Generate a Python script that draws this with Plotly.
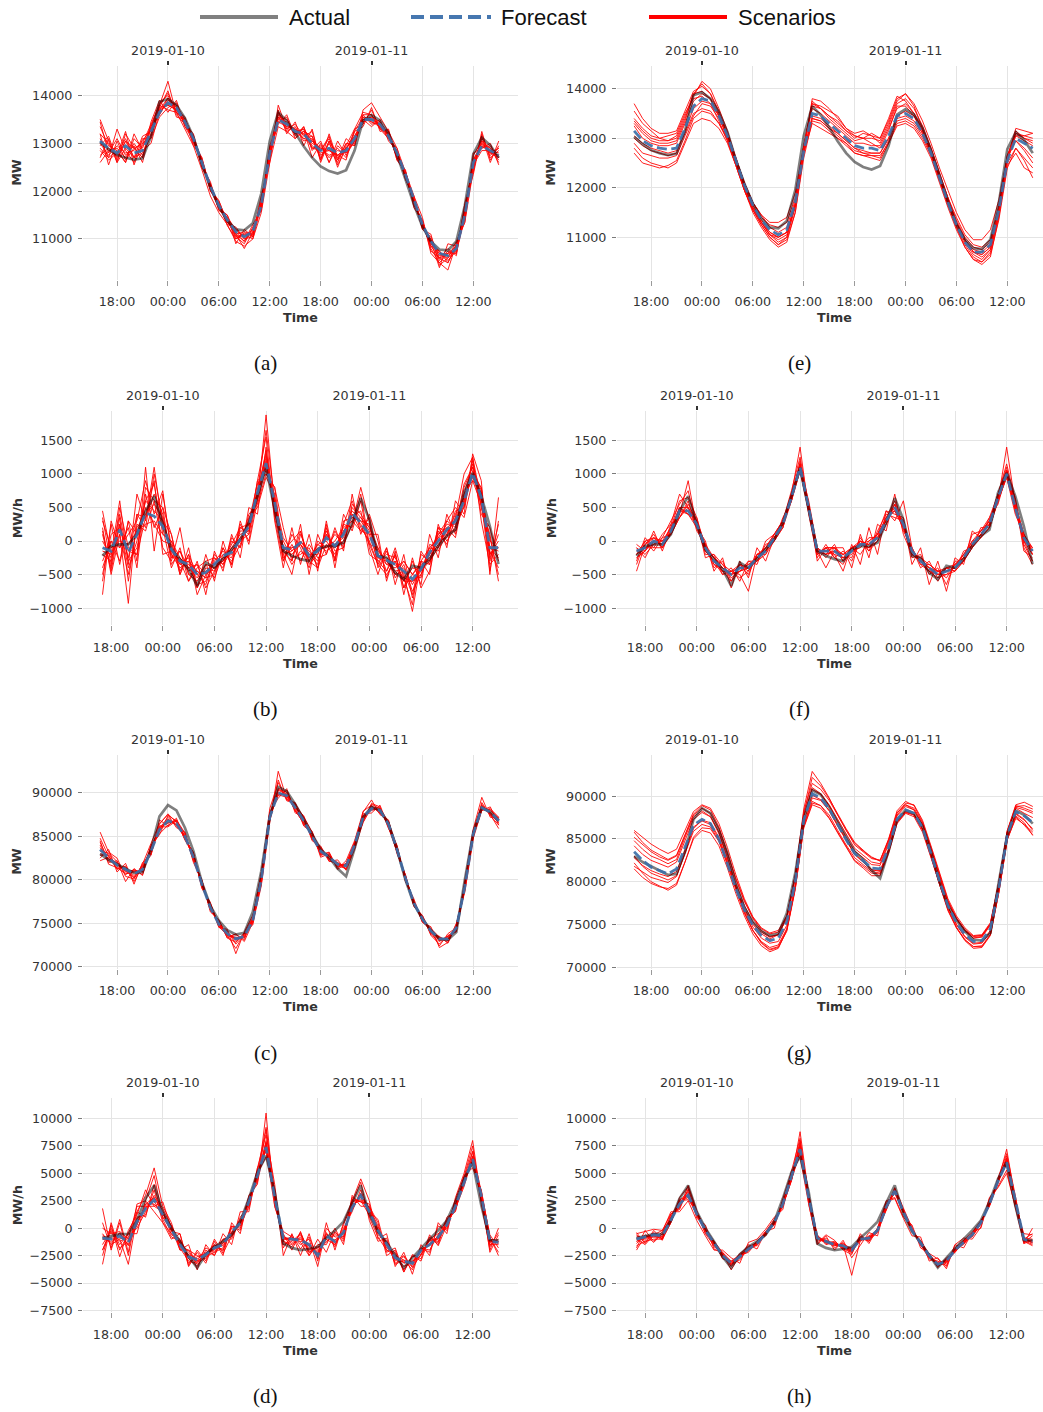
import pandas as pd
import plotly.graph_objects as go

W, H = 1043, 1412

# ---------------- time axes ----------------
T_LEVEL = pd.date_range("2019-01-09 16:00", periods=48, freq="h")
T_RAMP = pd.date_range("2019-01-09 17:00", periods=47, freq="h")

TICK_TIMES = ["2019-01-09 18:00", "2019-01-10 00:00", "2019-01-10 06:00", "2019-01-10 12:00",
              "2019-01-10 18:00", "2019-01-11 00:00", "2019-01-11 06:00", "2019-01-11 12:00"]
TICK_LABELS = ["18:00", "00:00", "06:00", "12:00", "18:00", "00:00", "06:00", "12:00"]
DATE_TICKS = ["2019-01-10 00:00", "2019-01-11 00:00"]
DATE_LABELS = ["2019-01-10", "2019-01-11"]

# ---------------- load (MW), panels a / e ----------------
ACT_LOAD_1 = [13030, 12880, 12760, 12700, 12660, 12690, 13150, 13870,
              13930, 13800, 13530, 13130, 12560, 12080, 11680, 11380,
              11200, 11180, 11330, 11950, 13050, 13650, 13470, 13220,
              12940, 12700, 12520, 12420, 12370, 12440, 12850, 13480,
              13590, 13480, 13210, 12760, 12250, 11720, 11260, 10950,
              10780, 10760, 10950, 11700, 12780, 13120, 12960, 12700]
FC_A = [13050, 12900, 12800, 12950, 12800, 12850, 13250, 13650,
        13850, 13750, 13450, 13100, 12600, 12100, 11700, 11400,
        11150, 11050, 11150, 11700, 12800, 13500, 13400, 13250,
        13200, 13000, 12850, 12900, 12800, 12850, 13100, 13500,
        13500, 13400, 13150, 12800, 12350, 11800, 11300, 10950,
        10700, 10650, 10800, 11500, 12600, 12950, 12850, 12750]
SCEN_A = [
    [13450, 12800, 13100, 12750, 12950, 12600, 13350, 13850, 14000, 13700, 13550, 13020, 12660, 12000, 11750, 11280,
     11000, 11130, 11050, 11850, 12600, 13800, 13300, 13400, 13150, 13250, 12650, 13050, 12500, 12950, 13300, 13650,
     13600, 13320, 13270, 12650, 12400, 11700, 11380, 10800, 10500, 10710, 10700, 11700, 12350, 13200, 12700, 12850],
    [12700, 13100, 12600, 13200, 12900, 13000, 13400, 13800, 14300, 13600, 13400, 13150, 12500, 12150, 11600, 11450,
     11050, 10900, 11250, 11600, 12900, 13400, 13600, 13150, 13350, 12900, 12950, 12700, 12900, 12700, 13300, 13400,
     13700, 13300, 13100, 12900, 12250, 11850, 11200, 11050, 10600, 10500, 10900, 11400, 12750, 13050, 12900, 12600],
    [12900, 12700, 13300, 12850, 12600, 13100, 13100, 13550, 13750, 13850, 13350, 13050, 12700, 12050, 11800, 11350,
     11200, 11000, 11050, 11800, 12700, 13650, 13250, 13350, 13050, 13100, 12700, 13000, 12650, 13000, 12950, 13600,
     13400, 13450, 13200, 12700, 12400, 11750, 11350, 10900, 10750, 10550, 10750, 11600, 12500, 13100, 12800, 12900],
    [13200, 13000, 12700, 13050, 12700, 12950, 13300, 13700, 13950, 13650, 13500, 13150, 12550, 12150, 11650, 11500,
     11100, 11150, 11100, 11750, 12850, 13550, 13500, 13200, 13250, 12950, 12800, 12850, 12750, 12900, 13150, 13450,
     13550, 13350, 13100, 12850, 12300, 11850, 11250, 10950, 10650, 10700, 10850, 11550, 12650, 12900, 12950, 12700],
    [12600, 12850, 12900, 12700, 13000, 12750, 13200, 13750, 13800, 13700, 13400, 13100, 12650, 12050, 11750, 11350,
     11150, 10950, 11200, 11650, 12750, 13450, 13350, 13300, 13100, 13050, 12900, 12750, 12850, 12800, 13050, 13550,
     13450, 13400, 13150, 12750, 12400, 11800, 11300, 10850, 10600, 10700, 10750, 11450, 12550, 12850, 12850, 12800],
    [13350, 12950, 12850, 12600, 13100, 12900, 13350, 13600, 13900, 13800, 13500, 13050, 12600, 12100, 11700, 11400,
     11050, 11100, 11100, 11700, 12800, 13600, 13400, 13250, 13300, 13050, 12850, 13100, 12700, 12850, 13250, 13550,
     13450, 13350, 13200, 12800, 12300, 11750, 11250, 10950, 10700, 10600, 10800, 11500, 12650, 13000, 12850, 12650],
    [12850, 12650, 12800, 13100, 12700, 12800, 13150, 13700, 13800, 13700, 13450, 13100, 12600, 12150, 11700, 11400,
     11100, 10800, 11150, 11750, 12750, 13500, 13450, 13200, 13300, 12700, 13000, 12600, 13050, 12750, 13050, 13450,
     13500, 13400, 13150, 12800, 12350, 11800, 11300, 10900, 10700, 10650, 10800, 11500, 12600, 12950, 12800, 12750],
    [13000, 12750, 12950, 12800, 12850, 13050, 13300, 13600, 13950, 13750, 13450, 13100, 12650, 12050, 11650, 11450,
     11200, 11050, 11200, 11650, 12850, 13550, 13350, 13300, 13200, 13000, 12900, 12850, 12750, 12900, 13100, 13500,
     13550, 13450, 13150, 12800, 12400, 11800, 11350, 10950, 10400, 10900, 10850, 11550, 12550, 12950, 12900, 12700],
    [12950, 13150, 12650, 13050, 12900, 12700, 13350, 13800, 13700, 13650, 13300, 12950, 12450, 11900, 11550, 11300,
     10950, 10850, 11000, 11550, 12600, 13350, 13250, 13100, 13250, 13150, 12650, 13200, 12650, 13100, 12950, 13700,
     13850, 13550, 13250, 12900, 12400, 11900, 11450, 10700, 10500, 10350, 10900, 11350, 12450, 13150, 12600, 13050],
    [13200, 12550, 13050, 12650, 12900, 12700, 13450, 13900, 13650, 13900, 13350, 13150, 12500, 12200, 11600, 11500,
     10900, 11200, 11050, 11900, 12650, 13700, 13200, 13450, 12950, 13300, 12600, 13050, 12750, 12650, 13250, 13350,
     13750, 13250, 13300, 12650, 12450, 11650, 11400, 10750, 10600, 10800, 10650, 11750, 12400, 13250, 12650, 12950],
    [12750, 12900, 12750, 13250, 12550, 13000, 13150, 13750, 14100, 13550, 13500, 12950, 12700, 12000, 11800, 11350,
     11100, 10950, 11300, 11600, 12950, 13450, 13550, 13100, 13350, 12850, 13050, 12600, 12950, 12800, 13050, 13500,
     13350, 13500, 13050, 12850, 12250, 11900, 11200, 11100, 10450, 10600, 10950, 11350, 12800, 12900, 13000, 12550],
    [13100, 12700, 12850, 12600, 13200, 12850, 13000, 13650, 13850, 13800, 13400, 13200, 12550, 12100, 11700, 11300,
     11250, 11000, 11150, 11800, 12700, 13550, 13300, 13300, 13100, 13150, 12750, 12900, 12600, 13000, 13000, 13600,
     13600, 13300, 13250, 12700, 12350, 11750, 11350, 10850, 10750, 10500, 10850, 11550, 12500, 13050, 12750, 12900],
    [13500, 13050, 12600, 12900, 12700, 13150, 13250, 13800, 14050, 13650, 13450, 13000, 12650, 12050, 11650, 11450,
     11000, 11100, 11000, 11700, 12850, 13650, 13400, 13200, 13200, 12900, 12850, 13150, 12550, 12900, 13150, 13500,
     13500, 13400, 13150, 12800, 12400, 11800, 11250, 11000, 10550, 10750, 10700, 11500, 12650, 13000, 12800, 12700],
]
FC_E = [13150, 12950, 12850, 12800, 12780, 12800, 13200, 13650,
        13800, 13750, 13450, 13050, 12550, 12050, 11650, 11350,
        11150, 11050, 11150, 11700, 12750, 13500, 13450, 13300,
        13150, 13000, 12850, 12800, 12800, 12750, 13050, 13450,
        13500, 13400, 13100, 12700, 12200, 11700, 11250, 10900,
        10700, 10700, 10850, 11550, 12550, 13000, 12900, 12800]
SCEN_E = [
    [13550, 13300, 13150, 13000, 12950, 13000, 13400, 13850, 14150, 14000, 13600, 13150, 12600, 12100, 11700, 11450,
     11300, 11300, 11400, 11900, 12850, 13700, 13650, 13550, 13450, 13200, 13050, 13000, 13000, 12950, 13300, 13750,
     13900, 13700, 13350, 12900, 12400, 11950, 11500, 11150, 10950, 10950, 11150, 11750, 12650, 13050, 13050, 13100],
    [12800, 12600, 12500, 12450, 12400, 12500, 12900, 13300, 13400, 13350, 13200, 12900, 12450, 11950, 11550, 11250,
     11000, 10850, 10950, 11500, 12600, 13350, 13300, 13150, 13000, 12850, 12700, 12650, 12600, 12550, 12900, 13250,
     13300, 13200, 12950, 12600, 12100, 11600, 11150, 10800, 10550, 10500, 10650, 11350, 12400, 12800, 12550, 12200],
    [13300, 13100, 12950, 12900, 12900, 12950, 13350, 13900, 14100, 13900, 13500, 13050, 12500, 12000, 11600, 11300,
     11050, 10900, 11000, 11600, 12800, 13750, 13600, 13450, 13300, 13150, 13050, 13000, 13100, 13000, 13350, 13800,
     13900, 13650, 13200, 12750, 12250, 11750, 11300, 10950, 10750, 10700, 10850, 11500, 12600, 13150, 13000, 12900],
    [13050, 12900, 12800, 12750, 12700, 12750, 13100, 13500, 13600, 13550, 13300, 12950, 12450, 11950, 11550, 11300,
     11050, 11000, 11100, 11650, 12700, 13300, 13200, 13100, 13000, 12900, 12700, 12650, 12650, 12650, 12900, 13300,
     13350, 13250, 13000, 12650, 12150, 11650, 11250, 10900, 10650, 10550, 10750, 11500, 12500, 12800, 12600, 12400],
    [13250, 13000, 12900, 12850, 12850, 12900, 13300, 13750, 13900, 13800, 13450, 13000, 12500, 11950, 11550, 11250,
     11000, 10850, 11000, 11650, 12850, 13600, 13500, 13350, 13200, 13050, 12900, 12900, 12850, 12850, 13200, 13600,
     13700, 13500, 13150, 12700, 12200, 11700, 11200, 10800, 10550, 10450, 10600, 11400, 12550, 13050, 12950, 12850],
    [12900, 12700, 12650, 12600, 12600, 12650, 13050, 13450, 13700, 13650, 13400, 13050, 12600, 12100, 11700, 11400,
     11250, 11200, 11300, 11800, 12750, 13450, 13400, 13250, 13100, 12950, 12800, 12700, 12700, 12700, 13000, 13400,
     13450, 13350, 13100, 12750, 12250, 11800, 11400, 11050, 10850, 10800, 10950, 11650, 12650, 12950, 12800, 12600],
    [13400, 13200, 13050, 13000, 13050, 13100, 13500, 13800, 13850, 13700, 13350, 12950, 12450, 11950, 11500, 11200,
     10950, 10800, 10900, 11500, 12700, 13800, 13750, 13600, 13400, 13200, 13100, 13150, 13050, 13000, 13400, 13850,
     13750, 13500, 13200, 12800, 12300, 11800, 11300, 10950, 10700, 10650, 10800, 11500, 12600, 13200, 13150, 13100],
    [13000, 12850, 12750, 12700, 12650, 12700, 13150, 13600, 13750, 13700, 13450, 13100, 12600, 12100, 11700, 11450,
     11200, 11100, 11200, 11750, 12750, 13400, 13350, 13200, 13100, 12950, 12800, 12750, 12700, 12700, 13000, 13450,
     13550, 13450, 13150, 12750, 12250, 11750, 11300, 10950, 10700, 10650, 10800, 11550, 12600, 12950, 12750, 12500],
    [13700, 13400, 13200, 13100, 13100, 13150, 13550, 13950, 14050, 13900, 13550, 13100, 12550, 12050, 11650, 11350,
     11100, 11000, 11100, 11700, 12800, 13650, 13600, 13450, 13350, 13150, 13000, 13100, 13050, 12900, 13250, 13700,
     13800, 13600, 13250, 12800, 12300, 11800, 11350, 11000, 10800, 10750, 10900, 11600, 12650, 13100, 13000, 12950],
    [12700, 12500, 12450, 12400, 12450, 12550, 12950, 13400, 13550, 13500, 13300, 13000, 12500, 12000, 11600, 11300,
     11100, 11000, 11100, 11650, 12700, 13400, 13350, 13200, 13050, 12900, 12750, 12700, 12650, 12600, 12950, 13350,
     13400, 13300, 13050, 12700, 12200, 11700, 11300, 10950, 10700, 10600, 10750, 11450, 12450, 12700, 12400, 12300],
    [13350, 13150, 13000, 12950, 12950, 13050, 13450, 13900, 13950, 13800, 13450, 13000, 12500, 12000, 11600, 11300,
     11050, 10950, 11050, 11650, 12850, 13700, 13600, 13400, 13250, 13100, 12950, 13000, 12900, 12800, 13150, 13650,
     13650, 13450, 13100, 12650, 12150, 11650, 11200, 10850, 10600, 10500, 10700, 11450, 12600, 13100, 13050, 13000],
]

# ---------------- load ramp (MW/h), panels b / f ----------------
ACT_RAMP_1 = [-220, -75, -50, -50, 100, 445, 670, 250,
              -125, -270, -420, -670, -320, -400, -270, -125,
              25, 270, 670, 1090, 470, -150, -220, -270,
              -300, -125, -75, -75, -25, 270, 640, 320,
              -220, -250, -470, -570, -370, -400, -270, -75,
              75, 170, 720, 1015, 670, 220, -345]
FC_B = [-100, -150, 170, -170, 100, 420, 370, 220,
        -125, -300, -350, -500, -470, -350, -220, -170,
        25, 220, 720, 1160, 570, -100, -130, -25,
        -220, -150, 50, -75, 100, 420, 270, 100,
        -220, -280, -350, -450, -570, -420, -170, 0,
        170, 300, 600, 1015, 650, -100, -100]
SCEN_B = [
    [450, -200, 600, -350, 700, 300, 1100, 200, -400, -100, -600, -300, -800, -150, -450, 100,
     -250, 500, 400, 1400, 300, -400, 200, -350, 100, -450, 300, -300, 400, 150, 600, -100,
     -500, -100, -650, -200, -850, -300, -500, 250, -100, 600, 400, 1300, 900, -500, 650],
    [-800, 300, -100, 200, -400, 700, 200, 500, 100, -500, -100, -700, -200, -600, 0, -400,
     200, 100, 900, 1000, 800, 200, -300, 250, -500, 100, -200, 200, -150, 700, 100, 400,
     0, -550, -200, -700, -300, -650, 100, -250, 400, 100, 800, 1100, 400, 200, -300],
    [100, -400, 350, -600, 250, 150, 600, -100, -300, 200, -500, -450, -550, -500, -100, -350,
     300, -50, 600, 1880, 500, -200, -500, 100, -200, -350, 250, -400, 300, 350, 450, -200,
     -300, -450, -100, -550, -950, -150, -350, 150, -50, 350, 1000, 1250, 300, -350, -200],
    [-300, 0, -100, 100, 300, 900, 400, 750, -200, -300, -600, -400, -300, -250, -400, 50,
     -100, 350, 500, 950, 700, -300, 100, -100, -400, 0, -100, 100, -50, 250, 800, 300,
     -400, -150, -500, -300, -500, -550, -50, -100, 300, 500, 350, 900, 800, -250, 100],
    [200, -500, 100, -930, 400, 200, 1000, 300, 100, -450, -200, -800, -500, -400, -300, -100,
     100, 150, 650, 1200, 400, 0, -250, -200, -100, -400, -50, -250, 250, 600, 200, 0,
     -350, -500, -300, -600, -400, -450, -300, 200, 0, 200, 700, 1150, 500, 100, -600],
    [0, -250, 400, -300, -100, 500, 250, 0, -50, -350, -250, -650, -600, -300, -150, -300,
     -50, 300, 850, 1050, 650, -150, 0, 150, -350, -200, 150, -150, -100, 500, 350, 200,
     -150, -300, -450, -400, -650, -400, -200, 50, 250, 250, 500, 1050, 700, 0, -100],
    [-500, 100, 200, -150, -200, 350, 700, 400, -250, -150, -400, -350, -700, -450, -250, -200,
     0, 100, 750, 1300, 450, -250, -100, -50, -250, -100, -100, 0, 200, 300, 150, 100,
     -300, -200, -250, -500, -1050, -300, -100, -150, 100, 400, 650, 950, 600, -450, 300],
    [300, -100, 0, -50, 150, 250, 300, 100, 0, -250, -400, -550, -350, -400, -300, -50,
     200, 250, 600, 1100, 600, 50, -150, 0, -150, -300, 100, -100, 0, 400, 250, -50,
     -100, -350, -400, -300, -500, -350, -250, -50, 150, 150, 550, 1200, 550, -150, -400],
    [-200, -300, 250, -400, 0, 600, 450, 300, -200, -400, -300, -450, -550, -200, -350, -150,
     50, 200, 700, 1250, 550, -100, -200, -50, -300, -50, 0, -200, 150, 350, 300, 250,
     -250, -250, -350, -550, -600, -500, -150, 100, 200, 300, 600, 1000, 800, -200, 0],
    [-600, 250, -350, 300, -300, 1100, -150, 700, -100, -300, -350, -500, -450, -350, -200, -150,
     0, 250, 700, 1150, 600, -100, -100, -50, -200, -150, 50, -50, 100, 450, 300, 100,
     100, -600, -150, -800, -250, -700, -450, 200, 150, 300, 600, 1000, 650, -100, -150],
    [350, -350, 500, -100, -200, 800, 600, 500, -350, -150, -500, -600, -350, -550, -200, -250,
     150, 150, 900, 1550, 350, -300, -50, -300, -50, -250, -200, 150, -100, 550, 400, 200,
     -100, -450, -200, -700, -500, -300, -350, 100, 300, 200, 850, 1100, 750, -300, 250],
    [-400, 0, -300, 300, 100, 600, 850, 100, 0, -500, -200, -500, -650, -250, -350, 0,
     -100, 400, 550, 1000, 800, -150, -300, 150, -300, -400, 200, -300, 250, 200, 700, -50,
     -350, -100, -550, -350, -750, -500, -200, 0, 50, 450, 500, 1250, 600, 50, -500],
    [150, -450, 250, -250, 400, 350, 900, -200, -150, -350, -300, -700, -400, -450, -100, -350,
     250, 0, 700, 1350, 500, -100, -350, -150, -250, -50, -150, -50, 50, 400, 150, 350,
     -250, -300, -500, -450, -800, -200, -300, -100, 200, 50, 700, 900, 550, -200, -100],
    [-150, -200, 100, -500, 200, 400, 550, 350, -250, -250, -450, -350, -500, -350, -300, -100,
     0, 300, 750, 1650, 600, -200, -150, 0, -200, -200, 100, -100, 150, 300, 350, 150,
     -200, -350, -300, -600, -600, -450, -100, 50, 100, 350, 650, 1000, 700, -100, -250],
]
FC_F = [-150, -100, 0, -50, 150, 450, 450, 250,
        -100, -300, -400, -500, -400, -400, -250, -150,
        50, 250, 650, 1100, 500, -150, -150, -150,
        -250, -150, -50, -50, 50, 300, 500, 250,
        -150, -300, -400, -500, -450, -400, -250, -50,
        100, 250, 650, 1000, 500, 50, -150]
SCEN_F = [
    [-450, -50, 100, -100, 250, 700, 500, 300, -250, -200, -500, -400, -600, -300, -350, 0,
     100, 300, 700, 1400, 450, -100, -200, -50, -300, -100, 0, -100, 100, 350, 600, 200,
     -200, -250, -350, -450, -400, -350, -200, 0, 150, 300, 700, 1050, 600, -50, -300],
    [-100, -200, -50, 50, 100, 400, 900, 200, -50, -250, -450, -600, -450, -350, -300, -200,
     0, 200, 600, 1050, 550, -200, -100, -200, -450, -50, -350, 200, -200, 450, 300, 600,
     -100, -350, -450, -550, -500, -450, -300, -100, 50, 200, 600, 950, 400, 100, -100],
    [-250, -150, 50, 0, 200, 500, 400, 350, -100, -250, -350, -450, -500, -750, -200, -150,
     50, 250, 700, 1150, 500, -150, -400, -150, -200, -100, -50, -100, 50, 350, 450, 200,
     -150, -300, -450, -500, -400, -450, -300, -50, 100, 250, 650, 1050, 550, 0, -200],
    [-200, -100, -100, -100, 100, 350, 550, 300, -50, -350, -400, -500, -350, -400, -300, -150,
     0, 300, 650, 1050, 450, -200, -100, -100, -100, -400, 100, -250, 250, 150, 700, 100,
     -200, -250, -400, -600, -400, -400, -200, -50, 100, 300, 700, 1100, 450, 100, -200],
    [-50, -150, 0, -50, 150, 500, 500, 250, -150, -300, -450, -450, -400, -350, -250, -100,
     100, 250, 600, 1150, 550, -100, -200, -150, -250, -200, 0, -50, 50, 250, 550, 250,
     -100, -350, -350, -450, -550, -350, -250, 0, 50, 200, 600, 1050, 500, 50, -150],
    [-200, 0, 50, -50, 200, 450, 400, 200, 0, -450, -250, -700, -300, -550, -100, -300,
     50, 200, 700, 1100, 550, -150, -150, -200, -250, -100, -50, -100, 0, 350, 450, 200,
     -150, -300, -400, -500, -450, -400, -300, -100, 100, 250, 600, 1400, 550, 100, -150],
    [-150, -100, -50, 0, 100, 450, 450, 300, -100, -250, -400, -500, -450, -400, -200, -150,
     50, 250, 650, 1100, 450, -150, -150, -100, -250, -150, -50, 0, 100, 300, 500, 250,
     -200, -300, -450, -450, -450, -400, -250, -50, 150, 250, 650, 950, 500, 0, -100],
    [-300, 50, -100, 100, 250, 350, 600, 150, -50, -400, -300, -600, -350, -500, -200, -100,
     0, 350, 600, 1200, 400, -250, -50, -250, -150, -300, 0, -150, 150, 400, 350, 300,
     -350, -100, -650, -300, -750, -250, -350, 150, 50, 350, 550, 1000, 650, -100, -350],
    [-350, 0, -150, 50, 300, 550, 750, 200, -150, -300, -500, -450, -550, -450, -250, -100,
     100, 300, 750, 1250, 550, -300, -100, -250, -350, -100, -200, 0, 100, 450, 400, 350,
     -250, -200, -500, -400, -650, -300, -300, 100, 150, 350, 700, 1150, 600, -150, -250],
    [-250, -150, 150, -150, 200, 600, 650, 350, -200, -200, -350, -550, -450, -300, -300, -50,
     0, 200, 700, 1100, 600, -100, -250, -100, -200, -250, 50, -150, 0, 250, 550, 150,
     -100, -400, -300, -550, -400, -450, -150, -100, 200, 200, 600, 1000, 450, 0, -300],
    [-100, -250, 0, 0, 100, 350, 500, 200, -50, -350, -450, -450, -350, -450, -200, -200,
     100, 300, 600, 1050, 450, -200, -100, -100, -300, -150, -100, 50, 50, 350, 450, 300,
     -200, -300, -400, -500, -500, -350, -250, -50, 100, 300, 650, 1050, 550, 100, -200],
    [-200, -50, 50, -100, 150, 500, 400, 250, -100, -250, -400, -500, -450, -400, -250, -150,
     50, 250, 650, 1150, 500, -150, -200, -150, -200, -100, -50, -50, 100, 300, 550, 200,
     -150, -300, -400, -450, -450, -400, -200, -50, 100, 250, 600, 950, 500, 50, -100],
]

# ---------------- load (MW), panels c / g ----------------
ACT_LOAD_2 = [83000, 82300, 81800, 81300, 80800, 80900, 83500, 87300,
              88600, 88000, 86000, 83300, 79700, 77000, 75300, 74200,
              73700, 73900, 76300, 81000, 87300, 90700, 90200, 88700,
              87000, 85200, 83500, 82600, 81300, 80400, 83600, 87200,
              88400, 88000, 86500, 83500, 80000, 77200, 75500, 74200,
              73200, 73100, 74000, 80000, 85500, 88300, 87800, 86800]
FC_C = [83500, 82500, 81700, 81200, 80700, 81200, 83300, 85800,
        86800, 86500, 85000, 82600, 79500, 76800, 74900, 73800,
        73200, 73500, 75300, 80000, 87200, 90000, 89700, 88300,
        86800, 85000, 83300, 82600, 81800, 81600, 84000, 87200,
        88200, 88000, 86400, 83500, 80200, 77300, 75500, 74100,
        73200, 73200, 74500, 79200, 85300, 88300, 87800, 86800]
SCEN_C = [
    [85500, 83200, 82500, 80400, 80100, 81800, 84200, 86500, 87500, 86000, 85500, 82000, 79900, 76300, 75400, 73300,
     72800, 73900, 74800, 80500, 88200, 91200, 89200, 88900, 86300, 85600, 82800, 83200, 81300, 82200, 84500, 87800,
     89200, 87500, 86900, 83000, 80600, 76900, 75900, 73600, 72600, 73600, 74000, 79700, 85900, 89500, 87200, 87200],
    [82500, 83500, 80900, 81900, 79500, 82000, 82800, 86900, 86200, 87100, 84600, 83200, 79100, 77300, 74500, 74300,
     71500, 74000, 75900, 79500, 86600, 92500, 89300, 88800, 87200, 84500, 83800, 82100, 82300, 81100, 83500, 86600,
     88800, 88400, 85900, 84000, 79800, 77800, 75100, 74600, 72200, 72800, 75000, 78600, 84800, 88000, 88400, 86300],
    [84000, 82000, 82200, 79800, 81300, 80500, 83900, 85200, 87400, 86800, 85300, 82300, 80000, 76500, 75300, 73500,
     73700, 73100, 75800, 80700, 87800, 89400, 90500, 87700, 87300, 85500, 82600, 83000, 81500, 81900, 84300, 87600,
     87700, 88600, 86000, 83300, 80500, 77000, 75900, 73800, 73500, 72700, 74800, 79500, 85700, 88700, 87500, 85900],
    [83000, 82800, 81300, 81500, 80200, 81500, 83000, 86200, 86500, 86900, 84800, 82900, 79300, 77100, 74700, 74000,
     72900, 73800, 75000, 79300, 86800, 90300, 89900, 88000, 86500, 85300, 83600, 82300, 82000, 81300, 83800, 86900,
     88500, 87700, 86700, 83800, 79900, 77500, 75300, 74300, 73000, 73400, 74200, 78900, 85000, 88100, 88100, 87100],
    [84300, 82200, 82000, 81000, 81100, 80900, 84000, 85600, 87000, 86300, 85200, 82400, 79700, 76600, 75100, 73600,
     73400, 73300, 75500, 80300, 87500, 89800, 89500, 88600, 87000, 84800, 83100, 82800, 81600, 81800, 84200, 87400,
     88000, 88200, 86200, 83300, 80400, 77100, 75700, 73900, 73400, 73000, 74700, 79400, 85500, 88500, 87600, 86600],
    [82800, 83000, 81500, 81300, 80500, 81400, 83100, 86000, 86600, 86700, 84900, 82800, 79400, 77000, 74800, 73900,
     73100, 73600, 75200, 79800, 87000, 90600, 89600, 88200, 86600, 85200, 83400, 82500, 81900, 81500, 83900, 87000,
     88400, 87900, 86500, 83600, 80100, 77400, 75400, 74200, 73100, 73300, 74400, 79100, 85200, 88400, 88000, 87000],
    [83700, 82400, 81800, 80900, 81000, 81000, 83500, 85700, 86900, 86400, 85100, 82500, 79600, 76700, 75000, 73700,
     73300, 73400, 75400, 80100, 87300, 89900, 89800, 88400, 86900, 84900, 83200, 82700, 81700, 81700, 84100, 87300,
     88100, 88100, 86300, 83400, 80300, 77200, 75600, 74000, 73300, 73100, 74600, 79300, 85400, 88200, 87700, 86700],
    [84500, 81800, 81400, 80700, 80900, 81100, 83600, 85900, 87200, 86200, 85000, 82700, 79500, 76900, 74900, 73800,
     73200, 73500, 75300, 80000, 87100, 90100, 89700, 88300, 87400, 84600, 83900, 82200, 81800, 81600, 84000, 87200,
     88200, 88000, 86400, 83500, 80200, 77300, 75500, 74100, 72400, 73800, 74500, 79200, 85300, 88300, 87800, 86500],
    [84800, 82700, 81200, 81600, 79800, 81600, 82900, 86400, 87600, 86600, 84700, 83100, 79000, 77400, 74600, 73600,
     72100, 73900, 75600, 80900, 86900, 91500, 89100, 88800, 86200, 85400, 83000, 83100, 81200, 81900, 83600, 87900,
     88600, 87600, 86800, 83200, 80500, 77000, 75800, 73700, 72900, 73500, 74100, 79700, 85100, 88900, 87400, 86300],
    [83300, 83100, 82100, 80600, 81200, 80600, 83800, 85300, 86300, 86900, 85400, 82200, 79900, 76500, 75200, 73300,
     73800, 72900, 75100, 79600, 87600, 90400, 90100, 87900, 87100, 84700, 83600, 82400, 82000, 81200, 84300, 86800,
     88700, 88200, 86100, 83900, 79900, 77600, 75200, 74400, 73400, 72800, 74900, 78800, 85600, 88000, 88200, 87200],
    [82200, 82600, 81900, 81000, 80300, 81700, 83400, 86100, 86100, 86800, 84600, 82800, 79300, 77200, 74600, 74100,
     72600, 73700, 75500, 79900, 87400, 89700, 90300, 88000, 86500, 85300, 82900, 82900, 81600, 81300, 84100, 86600,
     88300, 88300, 86600, 83200, 80300, 77500, 75100, 74300, 73000, 73500, 74300, 79000, 85000, 88600, 87500, 86900],
]
FC_G = [83500, 82500, 81700, 81300, 80900, 81500, 84000, 86600,
        87300, 86800, 85000, 82200, 79200, 76700, 74900, 73700,
        73100, 73400, 75300, 80000, 87200, 90300, 89800, 88500,
        86700, 84900, 83300, 82500, 81600, 81500, 84000, 87300,
        88400, 88000, 86300, 83300, 80100, 77200, 75200, 73800,
        73000, 73100, 74500, 79300, 85500, 88200, 87700, 86900]
SCEN_G = [
    [86000, 85200, 84400, 83800, 83300, 83800, 86000, 88200, 89000, 88600, 86800, 84000, 80800, 78000, 75900, 74600,
     74000, 74300, 76000, 80800, 88200, 91500, 90800, 89500, 87800, 86000, 84300, 83500, 82700, 82500, 84800, 88000,
     89200, 89000, 87200, 84200, 81000, 78000, 76000, 74600, 73700, 73800, 75200, 80000, 86000, 89000, 89300, 88800],
    [82200, 81000, 80000, 79500, 79000, 79600, 82200, 85000, 86000, 85700, 84200, 81600, 78600, 76000, 73900, 72500,
     71800, 72200, 74300, 79300, 86700, 89400, 88900, 87500, 85700, 84000, 82400, 81600, 80700, 80700, 83300, 86800,
     88000, 87600, 85800, 82800, 79600, 76600, 74600, 73200, 72400, 72500, 73800, 78700, 84900, 87600, 86600, 85500],
    [84800, 83800, 83000, 82600, 82100, 82600, 85200, 87600, 88300, 87600, 85600, 82700, 79500, 76900, 75000, 73900,
     73300, 73800, 75800, 80800, 88500, 92900, 91500, 89800, 87800, 86000, 84500, 83600, 82900, 82400, 84900, 88100,
     89000, 88400, 86700, 83700, 80500, 77600, 75700, 74300, 73600, 73700, 75000, 79900, 86000, 88700, 88400, 88000],
    [83000, 81800, 81000, 80600, 80200, 80700, 83200, 85900, 86700, 86400, 84800, 82000, 79000, 76300, 74300, 72900,
     72100, 72400, 74400, 79200, 86300, 89000, 88600, 87400, 85800, 84100, 82500, 81800, 81000, 80900, 83500, 86900,
     88100, 87900, 86100, 83200, 80000, 77000, 75000, 73500, 72700, 72800, 74100, 79000, 85100, 87900, 87200, 86200],
    [85200, 84300, 83500, 82900, 82500, 83000, 85400, 87800, 88600, 88000, 86200, 83300, 80300, 77700, 75800, 74500,
     73900, 74100, 76000, 80700, 87800, 91000, 90300, 89000, 87300, 85500, 83900, 83100, 82300, 82100, 84600, 87800,
     89000, 88600, 86900, 83900, 80700, 77700, 75700, 74300, 73400, 73600, 75000, 79700, 85800, 88900, 88600, 88200],
    [81500, 80500, 79800, 79400, 79200, 79800, 82300, 85200, 86300, 86200, 84700, 82100, 79100, 76400, 74300, 73000,
     72300, 72600, 74500, 79400, 86500, 89800, 89500, 88300, 86600, 84900, 83200, 82300, 81400, 81200, 83700, 87100,
     88200, 87800, 86100, 83000, 79700, 76800, 74700, 73200, 72400, 72400, 73800, 78800, 85000, 87700, 86900, 85400],
    [84200, 83200, 82500, 82100, 81700, 82300, 84800, 87300, 88100, 87600, 85800, 82900, 79800, 77200, 75300, 74100,
     73500, 73800, 75700, 80400, 87600, 90800, 90200, 88900, 87100, 85200, 83600, 82800, 82000, 81900, 84400, 87700,
     88800, 88400, 86700, 83700, 80500, 77500, 75600, 74200, 73400, 73500, 74900, 79600, 85800, 88600, 88000, 87500],
    [82800, 81900, 81300, 80900, 80600, 81200, 83700, 86400, 87100, 86700, 85000, 82300, 79300, 76700, 74700, 73400,
     72800, 73000, 74900, 79800, 87000, 90100, 89600, 88300, 86500, 84800, 83200, 82300, 81400, 81300, 83800, 87200,
     88300, 87900, 86200, 83200, 80000, 77100, 75000, 73600, 72800, 72900, 74300, 79100, 85300, 88000, 87300, 86000],
    [85800, 84600, 83700, 83100, 82600, 83100, 85600, 87900, 88900, 88400, 86400, 83500, 80400, 77800, 75700, 74300,
     73600, 73800, 75800, 80600, 87900, 92200, 91200, 89700, 87900, 86200, 84600, 83700, 82800, 82500, 85000, 88300,
     89400, 88900, 87000, 84000, 80800, 77800, 75800, 74400, 73600, 73700, 75100, 79900, 85900, 88800, 88900, 88500],
    [81800, 81100, 80500, 80200, 79900, 80600, 83300, 86200, 87200, 86900, 85200, 82400, 79300, 76500, 74300, 72800,
     72000, 72300, 74200, 79100, 86400, 89200, 88900, 87800, 86000, 84300, 82800, 82000, 81200, 81000, 83500, 87000,
     88100, 87800, 86000, 82900, 79700, 76700, 74600, 73100, 72200, 72300, 73700, 78800, 85000, 87400, 86700, 85800],
]

# ---------------- load ramp (MW/h), panels d / h ----------------
ACT_RAMP_2 = [-900, -700, -550, -550, 700, 2700, 3900, 1500,
              0, -1200, -2600, -3600, -2400, -1700, -1200, -600,
              600, 2700, 5100, 6600, 3300, -1400, -1800, -2000,
              -1900, -1700, -900, -200, 600, 2300, 3900, 1300,
              -300, -1300, -2400, -3600, -2700, -1800, -1000, -200,
              700, 2400, 4500, 6000, 2100, -1100, -1100]
FC_D = [-900, -1000, -700, -1300, 600, 1800, 2600, 1200,
        -150, -1500, -2600, -2900, -2400, -1800, -1500, -300,
        450, 2400, 4800, 7400, 2800, -900, -1000, -1100,
        -1500, -2500, -700, -1200, -400, 1900, 3000, 1500,
        -200, -1500, -2700, -3000, -3200, -2000, -1500, -800,
        300, 2000, 4200, 6300, 3000, -1200, -1300]
SCEN_D = [
    [1800, -2000, 500, -2500, 1500, 3000, 5500, 2000, 500, -2000, -1500, -3800, -1500, -2500, -500, -1500,
     1500, 1500, 5500, 8500, 4000, -2500, -500, -2500, -500, -3000, 500, -2000, 500, 2500, 4500, 2500,
     -1000, -500, -3500, -2200, -4200, -1500, -2500, 500, -500, 2800, 5000, 8000, 2500, -2000, 0],
    [-3300, 500, -2000, -500, -500, 2500, 1500, 500, -1000, -500, -3500, -2200, -3200, -1200, -2500, 500,
     -500, 3000, 4000, 10500, 2000, -500, -2000, -300, -2500, -1500, -1500, 0, -1500, 3000, 2000, 2000,
     500, -2500, -2000, -4000, -2500, -3000, -800, -1500, 1000, 1500, 4800, 5500, 3500, -800, -2500],
    [-500, -1500, -1000, -3300, 1000, 1200, 3500, 500, -500, -1000, -2800, -3500, -2000, -2500, -1000, -1000,
     1000, 2000, 5000, 6500, 3500, -1500, -1200, -500, -2000, -2000, -1000, -1500, 0, 1500, 3500, 1000,
     -800, -2000, -2500, -3500, -3000, -2500, -1000, -500, 0, 2500, 4000, 7000, 2500, -1500, -1000],
    [0, -500, -300, -1000, 2000, 2000, 2000, 1500, 0, -2000, -2000, -2500, -2800, -1500, -2000, 0,
     200, 2000, 5500, 7000, 2000, -300, -800, -1500, -1000, -3500, 0, -800, -800, 2200, 2500, 1200,
     -300, -1200, -3000, -2500, -3500, -1800, -2000, -600, 800, 1800, 3800, 6500, 3200, -600, -1800],
    [-1500, -200, -1200, -800, 0, 1500, 3000, 1800, 200, -1800, -3000, -3200, -2200, -2000, -1200, -600,
     500, 2800, 4500, 8000, 3000, -1200, -1500, -800, -1800, -2200, -500, -1500, -200, 1700, 3200, 1800,
     0, -1800, -2400, -3200, -3000, -2200, -1200, -1000, 500, 2200, 4500, 6000, 2800, -1500, -1500],
    [-1000, -1200, -500, -1500, 800, 1800, 2500, 1000, -200, -1400, -2500, -3000, -2500, -1600, -1600, -300,
     400, 2300, 4700, 7600, 2700, -800, -1000, -1200, -1400, -2600, -800, -1100, -500, 2000, 2800, 1400,
     -300, -1400, -2800, -3100, -3100, -2100, -1400, -900, 200, 2100, 4300, 6500, 3100, -1300, -1200],
    [-800, -900, -900, -1100, 500, 1900, 2800, 1300, -100, -1600, -2400, -2800, -2300, -1900, -1400, -400,
     500, 2500, 4900, 7200, 2900, -1000, -900, -1000, -1600, -2400, -600, -1300, -300, 1800, 3100, 1600,
     -100, -1600, -2600, -2900, -3300, -1900, -1600, -700, 400, 1900, 4100, 6200, 2900, -1100, -1400],
    [-2000, 0, -1500, -500, 1500, 1000, 4000, 800, -800, -1200, -2200, -3000, -1800, -2200, -1800, 200,
     0, 2600, 4400, 9000, 2500, -700, -1400, -600, -2200, -1800, -1200, -600, -800, 2600, 2400, 2200,
     -600, -1200, -3200, -2600, -3600, -2400, -1000, -1200, 600, 1600, 4600, 7000, 3300, -2200, -600],
    [-600, -1400, -400, -1600, 300, 2200, 2200, 1400, -300, -500, -3400, -2000, -3000, -1000, -2300, -700,
     600, 2300, 4600, 7800, 2600, -1100, -800, -1300, -2500, -1000, -2200, -300, -1200, 2800, 2400, 1900,
     -400, -1300, -2800, -3100, -3100, -2000, -1500, -700, 200, 2100, 4000, 6600, 3100, -1000, -1200],
    [-2500, 300, -2600, -200, 1200, 3500, 2000, 2400, 0, -1400, -2600, -3100, -2300, -1800, -1400, -400,
     400, 2400, 5000, 7300, 2900, -900, -1100, -1000, -1600, -2300, -800, -1100, -400, 1800, 3100, 1500,
     800, -2200, -1800, -4000, -2400, -2800, -600, -1600, 300, 2000, 4300, 6200, 3000, -1200, -1300],
    [500, -1800, 800, -2200, 2200, 2500, 4800, 1000, 300, -1700, -2000, -3300, -2600, -2200, -1000, -800,
     800, 1800, 5200, 9200, 3300, -1800, -600, -1900, -800, -2800, -400, -1700, 300, 2200, 4200, 700,
     -1200, -900, -3300, -2900, -3800, -1800, -2200, 200, -200, 2600, 4700, 7500, 2200, -1700, -400],
    [-2000, -300, -1800, -1200, 300, 2200, 2800, 1600, -600, -1100, -3200, -2600, -2300, -1500, -2100, 200,
     -200, 2700, 4200, 7800, 2400, -1200, -1700, -400, -2200, -1700, -1300, -400, -1000, 2400, 2600, 1900,
     200, -2000, -2200, -3800, -2600, -2400, -1100, -1300, 700, 1700, 4400, 5900, 3400, -900, -2200],
]
FC_H = [-1000, -800, -600, -700, 800, 2200, 3000, 1300,
        -200, -1400, -2500, -3200, -2600, -1900, -1400, -500,
        500, 2200, 4600, 7200, 2800, -900, -1200, -1500,
        -1600, -2000, -1000, -900, -200, 1900, 3400, 1500,
        -200, -1300, -2500, -3300, -3000, -2000, -1300, -600,
        500, 2200, 4300, 6000, 2600, -1000, -1200]
SCEN_H = [
    [-1600, -1200, -1000, -1000, 500, 2800, 3800, 1500, -500, -1200, -2200, -3000, -2400, -2000, -1200, -300,
     800, 2000, 4400, 8800, 3000, -600, -1500, -1300, -1900, -2200, -700, -1200, 0, 1600, 3700, 1800,
     0, -1600, -2300, -3600, -2700, -2200, -1100, -400, 700, 2000, 4600, 6800, 3000, -1200, -1600],
    [-500, -300, -100, -200, 1300, 1700, 3600, 900, 300, -1900, -2300, -3800, -2500, -1500, -1900, -300,
     0, 2700, 5100, 6500, 2200, -1500, -700, -2000, -1100, -2700, -1500, -400, -700, 2400, 2700, 900,
     -700, -800, -3000, -2700, -3700, -1500, -1800, -400, 0, 2700, 3700, 5000, 2000, -500, -600],
    [-1200, -900, -800, -900, 600, 2500, 2600, 1500, -100, -1300, -2400, -3100, -2500, -2200, -1300, -400,
     600, 2100, 4700, 7500, 3200, -1000, -1300, -1400, -1800, -1800, -900, -1000, -100, 1800, 3500, 1700,
     -100, -1400, -2600, -3200, -3100, -1900, -1200, -500, 600, 2100, 4200, 6400, 2800, -1400, -1100],
    [-400, -1400, -200, -1000, 1300, 1800, 3900, 1600, -300, -1500, -2600, -3300, -2300, -1800, -1500, -600,
     400, 2300, 4500, 7000, 2600, -800, -1100, -1600, -1500, -4300, -1100, -800, -300, 2000, 3200, 1400,
     -300, -1200, -2400, -3400, -2800, -2100, -1400, -700, 400, 2300, 4400, 5800, 2500, -900, -1300],
    [-2000, -700, -700, -800, 700, 2300, 3100, 1300, -200, -1400, -2500, -3200, -2700, -1900, -1400, -500,
     500, 2200, 4600, 7200, 2900, -900, -1200, -1500, -1600, -2000, -1000, -900, -200, 1900, 3400, 1500,
     -200, -1300, -2500, -3300, -3000, -2000, -1300, -600, 500, 2200, 4300, 7200, 2600, -1000, -1200],
    [-1800, -200, -1200, -300, 1500, 1500, 2500, 700, -700, -2000, -2000, -2700, -3200, -1300, -1000, -100,
     1000, 1700, 5200, 8200, 2200, -1400, -600, -1100, -2000, -2400, -500, -1400, 0, 2500, 2800, 1000,
     300, -1800, -2300, -2800, -3500, -1500, -900, -1000, 100, 2800, 3800, 5300, 1900, -1400, 0],
    [-700, -1100, -400, -1000, 500, 2600, 2900, 1400, 0, -1200, -2600, -3400, -2500, -2000, -1500, -500,
     300, 2300, 4400, 6900, 2700, -700, -1300, -1600, -1400, -1900, -1100, -900, -100, 1800, 3600, 1600,
     -300, -1200, -2300, -3500, -2900, -2100, -1400, -500, 600, 2100, 4500, 6300, 2400, -900, -1400],
    [-1000, -1500, -600, -200, 800, 2200, 3200, 1100, -200, -1200, -2800, -3000, -2600, -2100, -1200, -500,
     500, 2000, 4600, 7400, 2900, -900, -1200, -1300, -1800, -2000, -1200, -700, -200, 1700, 3400, 1700,
     -200, -1300, -2700, -3100, -3000, -2200, -1300, -600, 500, 2200, 4300, 6000, 2600, -1000, -500],
    [-1400, -600, -1300, -500, 1100, 2500, 3300, 1500, -500, -1600, -2300, -3500, -2700, -1700, -1300, -700,
     700, 2100, 4300, 8000, 3100, -1200, -900, -1800, -1300, -2300, -900, -1200, 0, 2200, 3200, 1700,
     100, -1500, -2800, -3000, -3400, -1800, -1100, -800, 400, 2300, 4200, 6600, 2400, -1300, -700],
    [-600, -1300, -500, -1100, 1000, 1900, 3500, 1200, -100, -1700, -2200, -3300, -2900, -1700, -1600, -300,
     300, 2500, 4400, 7800, 2400, -700, -1400, -1200, -1800, -2100, -800, -1100, -400, 1700, 3600, 1400,
     -300, -1100, -2600, -3400, -3200, -1900, -1500, -500, 600, 2000, 4100, 6200, 2700, -1100, -1500],
    [-1200, -700, -800, -600, 600, 2400, 2800, 1200, -300, -1300, -2700, -3100, -2500, -2000, -1300, -600,
     400, 2300, 4800, 7000, 3000, -1000, -1100, -1500, -1500, -1900, -1100, -800, -300, 2000, 3300, 1400,
     -100, -1400, -2400, -3200, -2900, -2100, -1200, -700, 400, 2300, 4400, 5900, 2700, -900, -1000],
    [-900, -900, -500, -800, 900, 2000, 3100, 1400, -200, -1500, -2400, -3300, -2600, -1800, -1500, -400,
     600, 2100, 4500, 7600, 2700, -800, -1300, -1400, -1700, -2100, -900, -1000, -200, 1800, 3500, 1600,
     -300, -1200, -2600, -3400, -3100, -1900, -1400, -500, 500, 2100, 4200, 6100, 2500, -1100, -1300],
]

# ---------------- styles / layout constants ----------------
SCEN_COLOR = "rgba(255,0,0,0.88)"
ACT_COLOR = "rgba(0,0,0,0.5)"
FC_COLOR = "rgba(60,112,168,0.92)"
GRID = "#e4e4e4"
TXT = "#333333"
TICKFONT = dict(family="DejaVu Sans", size=12.7, color=TXT)

LEFT = (83, 518)
RIGHT = (617, 1043)
ROWS = [(66, 281), (413, 628), (758, 973), (1103, 1318)]

RANGE_LEVEL = ("2019-01-09 13:59", "2019-01-11 17:16")
RANGE_RAMP = ("2019-01-09 14:44", "2019-01-11 17:16")

PANELS = [
    dict(tag="(a)", col=0, row=0, t=T_LEVEL, act=ACT_LOAD_1, fc=FC_A, sc=SCEN_A, yr=[10146, 14625], dt=1000, yt="MW"),
    dict(tag="(b)", col=0, row=1, t=T_RAMP, act=ACT_RAMP_1, fc=FC_B, sc=SCEN_B, yr=[-1257, 1935], dt=500, yt="MW/h"),
    dict(tag="(c)", col=0, row=2, t=T_LEVEL, act=ACT_LOAD_2, fc=FC_C, sc=SCEN_C, yr=[69750, 94400], dt=5000, yt="MW"),
    dict(tag="(d)", col=0, row=3, t=T_RAMP, act=ACT_RAMP_2, fc=FC_D, sc=SCEN_D, yr=[-7680, 11845], dt=2500, yt="MW/h"),
    dict(tag="(e)", col=1, row=0, t=T_LEVEL, act=ACT_LOAD_1, fc=FC_E, sc=SCEN_E, yr=[10140, 14466], dt=1000, yt="MW"),
    dict(tag="(f)", col=1, row=1, t=T_RAMP, act=ACT_RAMP_1, fc=FC_F, sc=SCEN_F, yr=[-1257, 1935], dt=500, yt="MW/h"),
    dict(tag="(g)", col=1, row=2, t=T_LEVEL, act=ACT_LOAD_2, fc=FC_G, sc=SCEN_G, yr=[69800, 94850], dt=5000, yt="MW"),
    dict(tag="(h)", col=1, row=3, t=T_RAMP, act=ACT_RAMP_2, fc=FC_H, sc=SCEN_H, yr=[-7680, 11845], dt=2500, yt="MW/h"),
]

for p in PANELS:
    n = len(p["t"])
    assert len(p["act"]) == n and len(p["fc"]) == n, p["tag"]
    for s in p["sc"]:
        assert len(s) == n, (p["tag"], len(s))


def px(x):
    return x / W


def py(y):
    return 1 - y / H


fig = go.Figure()
layout = {}
annotations = []

for k, p in enumerate(PANELS):
    xb, xt, ya = 2 * k + 1, 2 * k + 2, k + 1
    xb_ref = "x" if xb == 1 else f"x{xb}"
    xb_key = "xaxis" if xb == 1 else f"xaxis{xb}"
    xt_ref = f"x{xt}"
    ya_ref = "y" if ya == 1 else f"y{ya}"
    ya_key = "yaxis" if ya == 1 else f"yaxis{ya}"

    # invisible trace so the top (date) axis gets drawn
    fig.add_trace(go.Scatter(x=p["t"], y=p["act"], mode="lines", line=dict(width=0), opacity=0,
                             xaxis=xt_ref, yaxis=ya_ref, showlegend=False, hoverinfo="skip"))
    for s in p["sc"]:
        fig.add_trace(go.Scatter(x=p["t"], y=s, mode="lines", line=dict(color=SCEN_COLOR, width=1.0),
                                 xaxis=xb_ref, yaxis=ya_ref, showlegend=False, hoverinfo="skip"))
    fig.add_trace(go.Scatter(x=p["t"], y=p["act"], mode="lines", line=dict(color=ACT_COLOR, width=2.7),
                             xaxis=xb_ref, yaxis=ya_ref, showlegend=False, hoverinfo="skip"))
    fig.add_trace(go.Scatter(x=p["t"], y=p["fc"], mode="lines",
                             line=dict(color=FC_COLOR, width=2.8, dash="10px,4.5px"),
                             xaxis=xb_ref, yaxis=ya_ref, showlegend=False, hoverinfo="skip"))

    full = RANGE_LEVEL if p["t"] is T_LEVEL else RANGE_RAMP
    r0, r1 = pd.Timestamp(full[0]), pd.Timestamp(full[1])
    if p["col"] == 0:
        dom = LEFT
        rng = [r0, r1]
    else:
        dom = RIGHT
        frac = (RIGHT[1] - RIGHT[0]) / (LEFT[1] - LEFT[0])
        rng = [r0, r0 + (r1 - r0) * frac]
    rng = [str(v) for v in rng]
    top, bot = ROWS[p["row"]]

    layout[xb_key] = dict(domain=[px(dom[0]), min(1.0, px(dom[1]))], anchor=ya_ref, range=rng,
                          tickmode="array", tickvals=TICK_TIMES, ticktext=TICK_LABELS,
                          showgrid=True, gridcolor=GRID, gridwidth=1, zeroline=False, showline=False,
                          ticks="outside", ticklen=5, tickwidth=1.2, tickcolor="#9a9a9a",
                          tickfont=TICKFONT, ticklabelstandoff=5)
    layout[f"xaxis{xt}"] = dict(overlaying=xb_ref, side="top", anchor=ya_ref, range=rng,
                                tickmode="array", tickvals=DATE_TICKS, ticktext=DATE_LABELS,
                                showgrid=False, zeroline=False, showline=False,
                                ticks="outside", ticklen=4, tickwidth=1.5, tickcolor="#333333",
                                tickfont=TICKFONT, ticklabelstandoff=1)
    layout[ya_key] = dict(domain=[py(bot), py(top)], anchor=xb_ref, range=p["yr"],
                          tick0=0, dtick=p["dt"], tickformat="d",
                          showgrid=True, gridcolor=GRID, gridwidth=1, zeroline=False, showline=False,
                          ticks="outside", ticklen=4, tickwidth=1.2, tickcolor="#7a7a7a",
                          tickfont=TICKFONT, ticklabelstandoff=3)

    xc = (LEFT[0] + (LEFT[1] - LEFT[0]) / 2) if p["col"] == 0 else (RIGHT[0] + (LEFT[1] - LEFT[0]) / 2)
    annotations.append(dict(text="<b>%s</b>" % p["yt"], x=px(17 if p["col"] == 0 else 551), y=py((top + bot) / 2),
                            xref="paper", yref="paper", showarrow=False, textangle=-90,
                            font=dict(family="DejaVu Sans", size=12.7, color=TXT),
                            xanchor="center", yanchor="middle"))
    annotations.append(dict(text="<b>Time</b>", x=px(xc), y=py(bot + 38), xref="paper", yref="paper",
                            showarrow=False, font=dict(family="DejaVu Sans", size=12.7, color=TXT),
                            xanchor="center", yanchor="middle"))
    annotations.append(dict(text=p["tag"], x=px(265 if p["col"] == 0 else 799), y=py(bot + 84),
                            xref="paper", yref="paper", showarrow=False,
                            font=dict(family="Liberation Serif", size=21, color="#111111"),
                            xanchor="center", yanchor="middle"))

# ---------------- legend (drawn manually) ----------------
LEG_Y = 17
LEGEND_ITEMS = [("Actual", 200, 278, 287, dict(color="#808080", width=4)),
                ("Forecast", 411, 491, 499, dict(color="#4677b0", width=4, dash="13px,6px")),
                ("Scenarios", 649, 727, 736, dict(color="#ff0000", width=4))]
shapes = []
for name, x0, x1, xt_, ln in LEGEND_ITEMS:
    shapes.append(dict(type="line", xref="paper", yref="paper", x0=px(x0), x1=px(x1),
                       y0=py(LEG_Y), y1=py(LEG_Y), line=ln))
    annotations.append(dict(text=name, x=px(xt_), y=py(LEG_Y + 1), xref="paper", yref="paper", showarrow=False,
                            xanchor="left", yanchor="middle",
                            font=dict(family="Liberation Sans", size=22, color="#111111")))

fig.update_layout(
    width=W, height=H, margin=dict(l=0, r=0, t=0, b=0),
    paper_bgcolor="white", plot_bgcolor="white",
    showlegend=False, annotations=annotations, shapes=shapes,
    **layout,
)

fig.write_html("out.html", config={"displayModeBar": False},
               post_script="document.body.style.margin='0px';document.body.style.overflow='hidden';")
